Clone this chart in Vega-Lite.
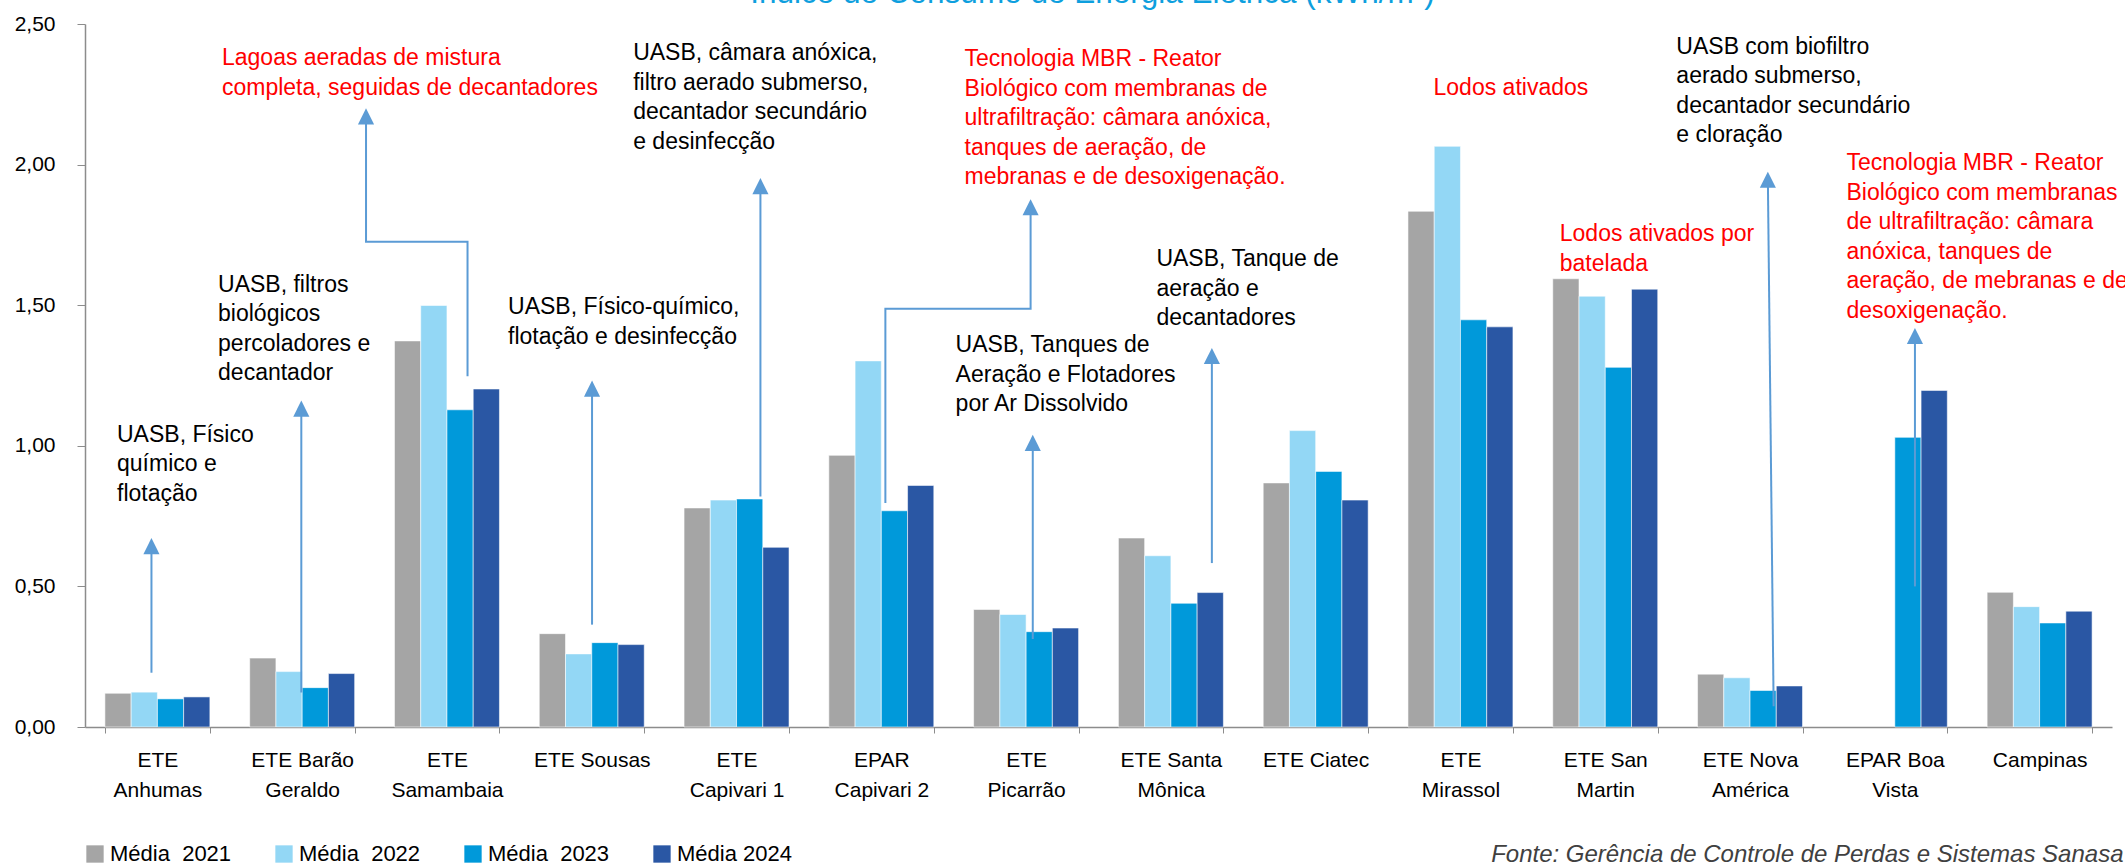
{
  "$schema": "https://vega.github.io/schema/vega-lite/v6.json",
  "width": 2027,
  "height": 703,
  "autosize": {"type": "none"},
  "padding": {"left": 85, "top": 24, "right": 13, "bottom": 137},
  "background": "white",
  "config": {
    "font": "Liberation Sans",
    "view": {"stroke": null},
    "axis": {"labelFont": "Liberation Sans", "titleFont": "Liberation Sans"}
  },
  "title": {
    "text": "Índice de Consumo de Energia Elétrica (kWh/m³)",
    "fontSize": 31.5,
    "font": "Liberation Sans",
    "fontWeight": "normal",
    "color": "#0E9FDE",
    "anchor": "middle",
    "frame": "group",
    "baseline": "alphabetic",
    "offset": -21,
    "dx": -6
  },
  "datasets": {
    "bars": [
      {"cat": "ETE|Anhumas", "year": "2021", "value": 0.120},
      {"cat": "ETE|Anhumas", "year": "2022", "value": 0.124},
      {"cat": "ETE|Anhumas", "year": "2023", "value": 0.100},
      {"cat": "ETE|Anhumas", "year": "2024", "value": 0.107},
      {"cat": "ETE Barão|Geraldo", "year": "2021", "value": 0.245},
      {"cat": "ETE Barão|Geraldo", "year": "2022", "value": 0.197},
      {"cat": "ETE Barão|Geraldo", "year": "2023", "value": 0.140},
      {"cat": "ETE Barão|Geraldo", "year": "2024", "value": 0.190},
      {"cat": "ETE|Samambaia", "year": "2021", "value": 1.373},
      {"cat": "ETE|Samambaia", "year": "2022", "value": 1.499},
      {"cat": "ETE|Samambaia", "year": "2023", "value": 1.128},
      {"cat": "ETE|Samambaia", "year": "2024", "value": 1.202},
      {"cat": "ETE Sousas", "year": "2021", "value": 0.332},
      {"cat": "ETE Sousas", "year": "2022", "value": 0.260},
      {"cat": "ETE Sousas", "year": "2023", "value": 0.300},
      {"cat": "ETE Sousas", "year": "2024", "value": 0.293},
      {"cat": "ETE|Capivari 1", "year": "2021", "value": 0.779},
      {"cat": "ETE|Capivari 1", "year": "2022", "value": 0.807},
      {"cat": "ETE|Capivari 1", "year": "2023", "value": 0.811},
      {"cat": "ETE|Capivari 1", "year": "2024", "value": 0.639},
      {"cat": "EPAR|Capivari 2", "year": "2021", "value": 0.966},
      {"cat": "EPAR|Capivari 2", "year": "2022", "value": 1.302},
      {"cat": "EPAR|Capivari 2", "year": "2023", "value": 0.769},
      {"cat": "EPAR|Capivari 2", "year": "2024", "value": 0.859},
      {"cat": "ETE|Picarrão", "year": "2021", "value": 0.418},
      {"cat": "ETE|Picarrão", "year": "2022", "value": 0.400},
      {"cat": "ETE|Picarrão", "year": "2023", "value": 0.339},
      {"cat": "ETE|Picarrão", "year": "2024", "value": 0.352},
      {"cat": "ETE Santa|Mônica", "year": "2021", "value": 0.672},
      {"cat": "ETE Santa|Mônica", "year": "2022", "value": 0.609},
      {"cat": "ETE Santa|Mônica", "year": "2023", "value": 0.440},
      {"cat": "ETE Santa|Mônica", "year": "2024", "value": 0.478},
      {"cat": "ETE Ciatec", "year": "2021", "value": 0.868},
      {"cat": "ETE Ciatec", "year": "2022", "value": 1.054},
      {"cat": "ETE Ciatec", "year": "2023", "value": 0.909},
      {"cat": "ETE Ciatec", "year": "2024", "value": 0.807},
      {"cat": "ETE|Mirassol", "year": "2021", "value": 1.834},
      {"cat": "ETE|Mirassol", "year": "2022", "value": 2.065},
      {"cat": "ETE|Mirassol", "year": "2023", "value": 1.448},
      {"cat": "ETE|Mirassol", "year": "2024", "value": 1.423},
      {"cat": "ETE San|Martin", "year": "2021", "value": 1.594},
      {"cat": "ETE San|Martin", "year": "2022", "value": 1.532},
      {"cat": "ETE San|Martin", "year": "2023", "value": 1.279},
      {"cat": "ETE San|Martin", "year": "2024", "value": 1.557},
      {"cat": "ETE Nova|América", "year": "2021", "value": 0.188},
      {"cat": "ETE Nova|América", "year": "2022", "value": 0.175},
      {"cat": "ETE Nova|América", "year": "2023", "value": 0.130},
      {"cat": "ETE Nova|América", "year": "2024", "value": 0.146},
      {"cat": "EPAR Boa|Vista", "year": "2023", "value": 1.030},
      {"cat": "EPAR Boa|Vista", "year": "2024", "value": 1.197},
      {"cat": "Campinas", "year": "2021", "value": 0.479},
      {"cat": "Campinas", "year": "2022", "value": 0.428},
      {"cat": "Campinas", "year": "2023", "value": 0.370},
      {"cat": "Campinas", "year": "2024", "value": 0.412}
    ],
    "notes": [
      {"u": 0.221, "v": 1.039, "txt": "UASB, Físico|químico e|flotação", "destaque": "não"},
      {"u": 0.919, "v": 1.573, "txt": "UASB, filtros|biológicos|percoladores e|decantador", "destaque": "não"},
      {"u": 0.946, "v": 2.378, "txt": "Lagoas aeradas de mistura|completa, seguidas de decantadores", "destaque": "sim"},
      {"u": 2.922, "v": 1.493, "txt": "UASB, Físico-químico,|flotação e desinfecção", "destaque": "não"},
      {"u": 3.786, "v": 2.396, "txt": "UASB, câmara anóxica,|filtro aerado submerso,|decantador secundário|e desinfecção", "destaque": "não"},
      {"u": 6.075, "v": 2.375, "txt": "Tecnologia MBR - Reator|Biológico com membranas de|ultrafiltração: câmara anóxica,|tanques de aeração, de|mebranas e de desoxigenação.", "destaque": "sim"},
      {"u": 6.013, "v": 1.357, "txt": "UASB, Tanques de|Aeração e  Flotadores|por Ar Dissolvido", "destaque": "não"},
      {"u": 7.400, "v": 1.664, "txt": "UASB, Tanque de|aeração e|decantadores", "destaque": "não"},
      {"u": 9.314, "v": 2.272, "txt": "Lodos ativados", "destaque": "sim"},
      {"u": 10.186, "v": 1.753, "txt": "Lodos ativados por|batelada", "destaque": "sim"},
      {"u": 10.991, "v": 2.419, "txt": "UASB com biofiltro|aerado submerso,|decantador secundário|e cloração", "destaque": "não"},
      {"u": 12.166, "v": 2.005, "txt": "Tecnologia MBR - Reator|Biológico com membranas|de ultrafiltração: câmara|anóxica, tanques de|aeração, de mebranas e de|desoxigenação.", "destaque": "sim"}
    ],
    "arrows": [
      {"seta": "a1", "ordem": 1, "u": 0.459, "v": 0.193},
      {"seta": "a1", "ordem": 2, "u": 0.459, "v": 0.652},
      {"seta": "a2", "ordem": 1, "u": 1.494, "v": 0.123},
      {"seta": "a2", "ordem": 2, "u": 1.494, "v": 1.141},
      {"seta": "a3", "ordem": 1, "u": 2.642, "v": 1.247},
      {"seta": "a3", "ordem": 2, "u": 2.642, "v": 1.726},
      {"seta": "a3", "ordem": 3, "u": 1.941, "v": 1.726},
      {"seta": "a3", "ordem": 4, "u": 1.941, "v": 2.180},
      {"seta": "a4", "ordem": 1, "u": 3.502, "v": 0.364},
      {"seta": "a4", "ordem": 2, "u": 3.502, "v": 1.212},
      {"seta": "a5", "ordem": 1, "u": 4.665, "v": 0.820},
      {"seta": "a5", "ordem": 2, "u": 4.665, "v": 1.932},
      {"seta": "a6", "ordem": 1, "u": 5.528, "v": 0.797},
      {"seta": "a6", "ordem": 2, "u": 5.528, "v": 1.487},
      {"seta": "a6", "ordem": 3, "u": 6.531, "v": 1.487},
      {"seta": "a6", "ordem": 4, "u": 6.531, "v": 1.857},
      {"seta": "a7", "ordem": 1, "u": 6.546, "v": 0.313},
      {"seta": "a7", "ordem": 2, "u": 6.546, "v": 1.019},
      {"seta": "a8", "ordem": 1, "u": 7.783, "v": 0.583},
      {"seta": "a8", "ordem": 2, "u": 7.783, "v": 1.328},
      {"seta": "a11", "ordem": 1, "u": 11.663, "v": 0.074},
      {"seta": "a11", "ordem": 2, "u": 11.623, "v": 1.955},
      {"seta": "a12", "ordem": 1, "u": 12.639, "v": 0.500},
      {"seta": "a12", "ordem": 2, "u": 12.639, "v": 1.399}
    ],
    "heads": [
      {"u": 0.459, "v": 0.672},
      {"u": 1.494, "v": 1.161},
      {"u": 1.941, "v": 2.200},
      {"u": 3.502, "v": 1.232},
      {"u": 4.665, "v": 1.952},
      {"u": 6.531, "v": 1.877},
      {"u": 6.546, "v": 1.039},
      {"u": 7.783, "v": 1.348},
      {"u": 11.623, "v": 1.975},
      {"u": 12.639, "v": 1.419}
    ]
  },
  "resolve": {"scale": {"x": "independent"}, "axis": {"x": "independent"}},
  "layer": [
    {
      "data": {"name": "bars"},
      "mark": {"type": "bar", "stroke": "#FFFFFF", "strokeWidth": 0.8, "strokeOpacity": 0.7},
      "encoding": {
        "x": {
          "field": "cat", "type": "nominal", "sort": null,
          "scale": {"paddingInner": 0.275, "paddingOuter": 0.1375},
          "axis": {
            "title": "Fonte: Gerência de Controle de Perdas e Sistemas Sanasa",
            "titleFont": "Liberation Sans",
            "titleFontStyle": "italic",
            "titleFontWeight": "normal",
            "titleFontSize": 24,
            "titleColor": "#404040",
            "titleAlign": "right",
            "titleAnchor": "end",
            "titleBaseline": "alphabetic",
            "titleX": 2038,
            "titleY": 134,
            "labelExpr": "split(datum.label, '|')",
            "labelAngle": 0,
            "labelFontSize": 21,
            "labelColor": "#000000",
            "labelLineHeight": 30,
            "labelPadding": 16,
            "labelBaseline": "top",
            "labelOverlap": false,
            "labelLimit": 0,
            "tickBand": "extent",
            "tickSize": 6,
            "tickColor": "#8C8C8C",
            "domainColor": "#8C8C8C",
            "domainWidth": 1.5,
            "grid": false
          }
        },
        "xOffset": {"field": "year", "type": "nominal", "scale": {"paddingInner": 0, "paddingOuter": 0}},
        "y": {
          "field": "value", "type": "quantitative",
          "scale": {"domain": [0, 2.5], "nice": false},
          "axis": {
            "title": null,
            "values": [0, 0.5, 1, 1.5, 2, 2.5],
            "labelExpr": "replace(format(datum.value, '.2f'), '.', ',')",
            "labelFontSize": 21,
            "labelColor": "#000000",
            "labelPadding": 22,
            "tickSize": 8,
            "tickColor": "#8C8C8C",
            "domainColor": "#8C8C8C",
            "domainWidth": 1.5,
            "grid": false
          }
        },
        "color": {
          "field": "year", "type": "nominal",
          "scale": {"domain": ["2021", "2022", "2023", "2024"], "range": ["#A5A5A5", "#93D7F5", "#0099DA", "#2A57A4"]},
          "legend": {
            "title": null,
            "orient": "none",
            "legendX": -1,
            "legendY": 819,
            "direction": "horizontal",
            "columns": 4,
            "gridAlign": "all",
            "columnPadding": 41,
            "padding": 0,
            "symbolType": "square",
            "symbolSize": 300,
            "symbolStrokeWidth": 0,
            "labelFontSize": 22,
            "labelFont": "Liberation Sans",
            "labelColor": "#000000",
            "labelOffset": 4,
            "labelLimit": 0,
            "labelExpr": "datum.label == '2024' ? 'Média 2024' : 'Média\u00a0 ' + datum.label"
          }
        }
      }
    },
    {
      "data": {"name": "arrows"},
      "mark": {"type": "line", "color": "#5B9BD5", "strokeWidth": 2},
      "encoding": {
        "x": {"field": "u", "type": "quantitative", "scale": {"domain": [0, 14], "nice": false, "zero": false}, "axis": null},
        "y": {"field": "v", "type": "quantitative", "title": null, "scale": {"domain": [0, 2.5], "nice": false}},
        "detail": {"field": "seta", "type": "nominal"},
        "order": {"field": "ordem", "type": "quantitative"}
      }
    },
    {
      "data": {"name": "heads"},
      "mark": {"type": "point", "shape": "M0,0L-1,2L1,2Z", "filled": true, "color": "#5B9BD5", "size": 260, "opacity": 1},
      "encoding": {
        "x": {"field": "u", "type": "quantitative", "scale": {"domain": [0, 14], "nice": false, "zero": false}, "axis": null},
        "y": {"field": "v", "type": "quantitative", "title": null, "scale": {"domain": [0, 2.5], "nice": false}}
      }
    },
    {
      "data": {"name": "notes"},
      "transform": [{"filter": "datum.destaque == 'não'"}],
      "mark": {"type": "text", "align": "left", "baseline": "middle", "lineBreak": "|", "lineHeight": 29.5, "fontSize": 23, "font": "Liberation Sans", "color": "#000000"},
      "encoding": {
        "x": {"field": "u", "type": "quantitative", "scale": {"domain": [0, 14], "nice": false, "zero": false}, "axis": null},
        "y": {"field": "v", "type": "quantitative", "title": null, "scale": {"domain": [0, 2.5], "nice": false}},
        "text": {"field": "txt", "type": "nominal"}
      }
    },
    {
      "data": {"name": "notes"},
      "transform": [{"filter": "datum.destaque == 'sim'"}],
      "mark": {"type": "text", "align": "left", "baseline": "middle", "lineBreak": "|", "lineHeight": 29.5, "fontSize": 23, "font": "Liberation Sans", "color": "#FF0000"},
      "encoding": {
        "x": {"field": "u", "type": "quantitative", "scale": {"domain": [0, 14], "nice": false, "zero": false}, "axis": null},
        "y": {"field": "v", "type": "quantitative", "title": null, "scale": {"domain": [0, 2.5], "nice": false}},
        "text": {"field": "txt", "type": "nominal"}
      }
    }
  ]
}
